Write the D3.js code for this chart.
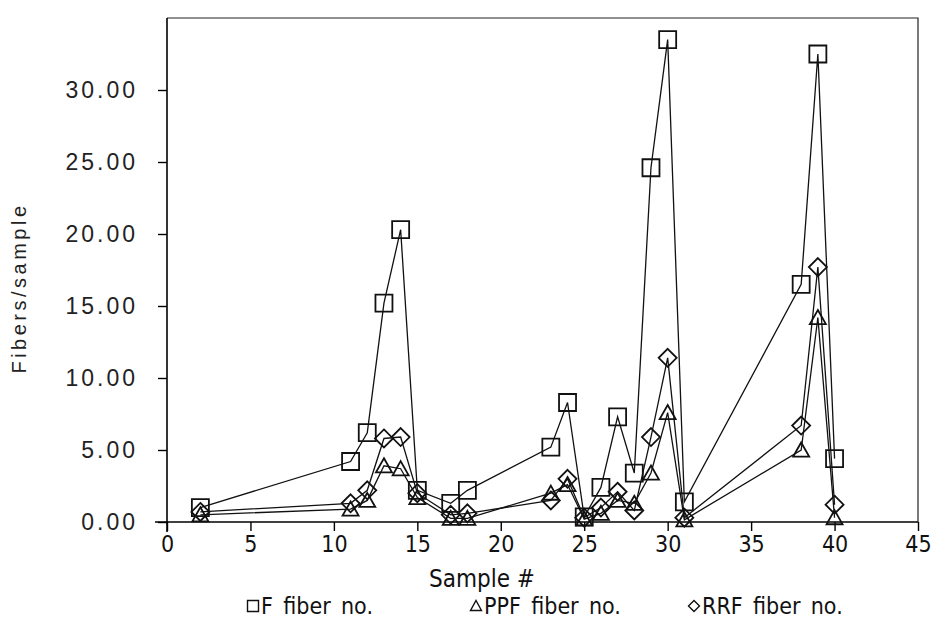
<!DOCTYPE html>
<html>
<head>
<meta charset="utf-8">
<script src="https://cdn.jsdelivr.net/npm/d3@7"></script>
<style>
	body { margin: 0; background: #fff; }
	.tick-y { font-family: "Liberation Sans", Arial, sans-serif; font-size: 23px; letter-spacing: 3px; fill: #222; }
	.narrow { font-family: "Liberation Sans Narrow", "DejaVu Sans Condensed", sans-serif; font-size: 23px; fill: #111; }
</style>
</head>
<body>
<div id="chart"></div>
<script>
// sample numbers
const samples = [2, 11, 12, 13, 14, 15, 17, 18, 23, 24, 25, 26, 27, 28, 29, 30, 31, 38, 39, 40];

// fibers per sample
const fFiber   = [1.0, 4.2, 6.2, 15.2, 20.3, 2.2, 1.3, 2.2, 5.2, 8.3, 0.35, 2.4, 7.3, 3.4, 24.6, 33.5, 1.4, 16.5, 32.5, 4.4];
const ppfFiber = [0.5, 0.9, 1.5, 3.9, 3.7, 1.7, 0.25, 0.25, 2.0, 2.6, 0.2, 0.6, 1.5, 1.3, 3.4, 7.6, 0.15, 5.0, 14.2, 0.3];
const rrfFiber = [0.7, 1.3, 2.2, 5.8, 5.9, 2.0, 0.5, 0.6, 1.5, 3.0, 0.3, 1.0, 2.1, 0.8, 5.9, 11.4, 0.3, 6.7, 17.7, 1.2];

const xTicks = [0, 5, 10, 15, 20, 25, 30, 35, 40, 45];
const yTicks = [0, 5, 10, 15, 20, 25, 30];
const seriesNames = ["F fiber no.", "PPF fiber no.", "RRF fiber no."];

const width = 937, height = 631;
const margin = { top: 18, right: 19, bottom: 109, left: 167 };

const svg = d3.select("#chart").append("svg")
	.attr("width", width)
	.attr("height", height);

const x = d3.scaleLinear().domain([0, 45]).range([margin.left, width - margin.right]);
const y = d3.scaleLinear().domain([0, 35]).range([height - margin.bottom, margin.top]);

// marker shapes
function squarePath(s) {
	const h = s / 2;
	return "M" + (-h) + "," + (-h) + "H" + h + "V" + h + "H" + (-h) + "Z";
}
function trianglePath(s) {
	const h = s / 2, t = s * 0.82;
	return "M0," + (-t / 2 - 1) + "L" + h + "," + (t / 2) + "L" + (-h) + "," + (t / 2) + "Z";
}
function diamondPath(s) {
	const h = s / 2;
	return "M0," + (-h) + "L" + h + ",0L0," + h + "L" + (-h) + ",0Z";
}

const series = [
	{ name: seriesNames[0], values: fFiber, shape: squarePath, size: 17 },
	{ name: seriesNames[1], values: ppfFiber, shape: trianglePath, size: 16 },
	{ name: seriesNames[2], values: rrfFiber, shape: diamondPath, size: 18 }
];

// frame (top and right)
svg.append("path")
	.attr("d", "M" + x(0) + "," + y(35) + "H" + x(45) + "V" + y(0))
	.attr("fill", "none")
	.attr("stroke", "#222")
	.attr("stroke-width", 1.2);

// axes
const xAxis = svg.append("g")
	.attr("transform", "translate(0," + y(0) + ")")
	.call(d3.axisBottom(x).tickValues(xTicks).tickSize(9).tickPadding(5).tickFormat(d3.format("d")));
xAxis.select(".domain").attr("stroke-width", 1.6).attr("d", "M" + (x(0) - 12) + ",0H" + x(45));
xAxis.selectAll(".tick line").attr("stroke-width", 1.4);
xAxis.selectAll(".tick text").attr("class", "narrow").attr("font-family", null).attr("font-size", null);

const yAxis = svg.append("g")
	.attr("transform", "translate(" + x(0) + ",0)")
	.call(d3.axisLeft(y).tickValues(yTicks).tickSize(9).tickPadding(20).tickFormat(d3.format(".2f")));
yAxis.select(".domain").attr("stroke-width", 1.6).attr("d", "M0," + y(35) + "V" + (y(0) + 10));
yAxis.selectAll(".tick line").attr("stroke-width", 1.4);
yAxis.selectAll(".tick text").attr("class", "tick-y").attr("font-family", null).attr("font-size", null);

// axis titles
svg.append("text")
	.attr("class", "narrow")
	.attr("x", 482)
	.attr("y", 587)
	.attr("text-anchor", "middle")
	.style("font-size", "24px")
	.text("Sample #");

svg.append("text")
	.attr("class", "tick-y")
	.attr("transform", "translate(26,288) rotate(-90)")
	.attr("text-anchor", "middle")
	.style("font-size", "20px")
	.style("letter-spacing", "3.5px")
	.text("Fibers/sample");

// lines and markers
const line = d3.line()
	.x((d, i) => x(samples[i]))
	.y(d => y(d));

series.forEach(s => {
	const g = svg.append("g");
	g.append("path")
		.datum(s.values)
		.attr("fill", "none")
		.attr("stroke", "#111")
		.attr("stroke-width", 1.3)
		.attr("d", line);
	g.selectAll("path.mark")
		.data(s.values)
		.enter().append("path")
		.attr("class", "mark")
		.attr("transform", (d, i) => "translate(" + x(samples[i]) + "," + y(d) + ")")
		.attr("d", s.shape(s.size))
		.attr("fill", "none")
		.attr("stroke", "#111")
		.attr("stroke-width", 1.8);
});

// legend
const legendX = [253, 476, 694];
const legend = svg.append("g");
series.forEach((s, i) => {
	legend.append("path")
		.attr("transform", "translate(" + legendX[i] + ",606)")
		.attr("d", s.shape(11))
		.attr("fill", "none")
		.attr("stroke", "#111")
		.attr("stroke-width", 1.4);
	legend.append("text")
		.attr("class", "narrow")
		.attr("x", legendX[i] + 8)
		.attr("y", 614)
		.text(s.name.replace(" fiber", "\u2002fiber").replace(" no.", "\u2002no."));
});
</script>
</body>
</html>
